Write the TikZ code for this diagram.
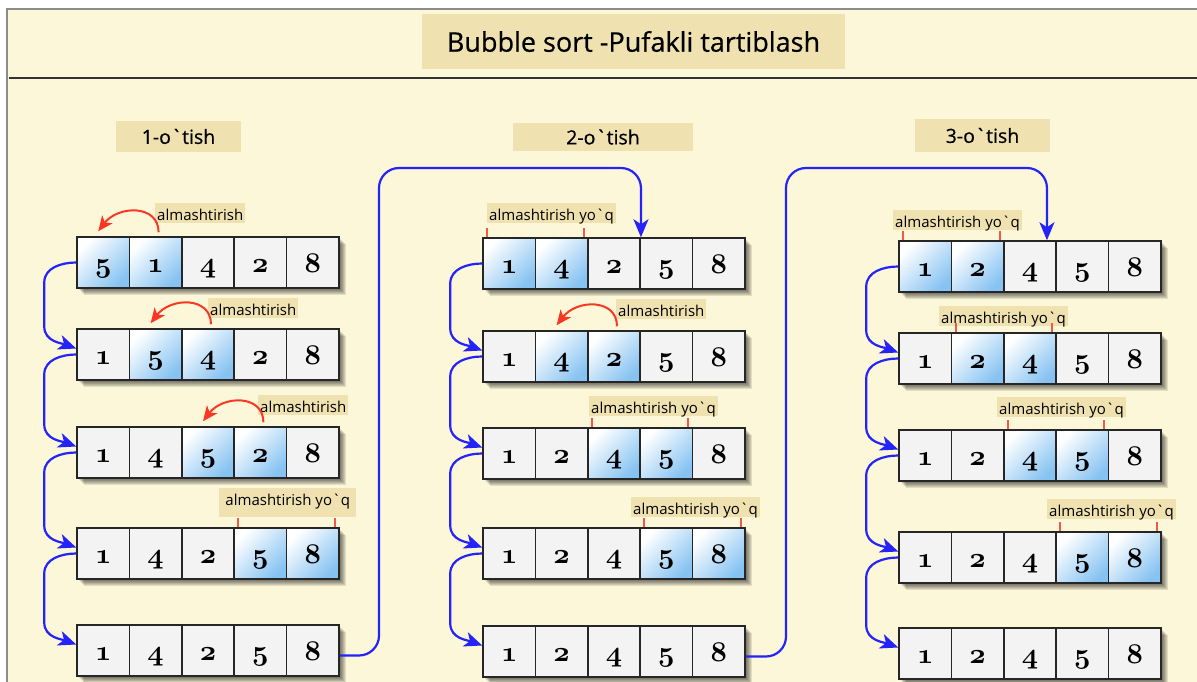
\documentclass[tikz,border=0pt]{standalone}
\usepackage{fontspec}
\usetikzlibrary{arrows.meta,positioning}

\newfontfamily\labelfont{Open Sans}[Ligatures=TeXOff]
\newfontfamily\headfont{Open Sans}[Ligatures=TeXOff, FakeBold=0.6]
\font\cellfont=cmmib10 at 28.5pt

\definecolor{pagebg}{RGB}{252,247,216}
\definecolor{tagbg}{RGB}{239,226,176}
\definecolor{cellbg}{RGB}{243,243,243}
\definecolor{cellblue}{RGB}{135,195,242}
\definecolor{flowblue}{RGB}{35,35,250}
\definecolor{swapred}{RGB}{250,55,35}
\definecolor{tickred}{RGB}{242,90,70}

\tikzset{
  cell/.style={draw=black!85, line width=1.5pt, fill=cellbg,
    minimum width=52.4pt, minimum height=51pt, inner sep=0pt,
    text height=26pt, text depth=6pt, font=\cellfont},
  hot0/.style={},
  hot1/.style={top color=white, bottom color=cellblue, shading angle=45},
  tag/.style={fill=tagbg, inner xsep=2pt, inner ysep=0pt,
    text height=17pt, text depth=3pt,
    font=\labelfont\fontsize{15pt}{18pt}\selectfont},
  head/.style={fill=tagbg, font=\headfont\fontsize{19.5pt}{22pt}\selectfont},
  flow/.style={draw=flowblue, line width=2.2pt,
    -{Stealth[length=18pt,width=15pt,inset=5pt]}},
  swap/.style={draw=swapred, line width=2pt,
    -{Stealth[length=15pt,width=13pt,inset=4pt]}},
  tick/.style={draw=tickred, line width=2pt},
}

\begin{document}
\begin{tikzpicture}[x=1pt, y=-1pt]
  \useasboundingbox (0,0) rectangle (1197,682);

  % --- 1. Ramka va sarlavha ---
  \fill[white] (0,0) rectangle (1197,682);
  \fill[pagebg] (7,9) rectangle (1197,682);
  \draw[black!45, line width=2pt] (7,682) -- (7,9) -- (1197,9);
  \draw[black!80, line width=1.5pt] (9,78) -- (1197,78);
  \node[fill=tagbg, minimum width=423pt, minimum height=55pt,
    font=\headfont\fontsize{27pt}{30pt}\selectfont] (title) at (633.5,41.5)
    {Bubble sort -Pufakli tartiblash};

  % --- 2. O`tish sarlavhalari ---
  \node[head, minimum width=125pt, minimum height=31pt] (pass1) at (178.5,136.5) {1-o`tish};
  \node[head, minimum width=180pt, minimum height=28pt] (pass2) at (603,137) {2-o`tish};
  \node[head, minimum width=135pt, minimum height=33pt] (pass3) at (982.5,135.5) {3-o`tish};

  % --- 3. Qatorlar (o`tish/qator/x/y/ajratilgan juftlik/qiymatlar) ---
  \foreach \p/\r/\x/\y/\h/\vals in {
      1/1/77/237/1/{5,1,4,2,8}, 1/2/77/329/2/{1,5,4,2,8}, 1/3/77/427/3/{1,4,5,2,8},
      1/4/77/528/4/{1,4,2,5,8}, 1/5/77/625/0/{1,4,2,5,8},
      2/1/483/238/1/{1,4,2,5,8}, 2/2/483/331/2/{1,4,2,5,8}, 2/3/483/428/3/{1,2,4,5,8},
      2/4/483/528/4/{1,2,4,5,8}, 2/5/483/626/0/{1,2,4,5,8},
      3/1/899/241/1/{1,2,4,5,8}, 3/2/899/333/2/{1,2,4,5,8}, 3/3/899/430/3/{1,2,4,5,8},
      3/4/899/532/4/{1,2,4,5,8}, 3/5/899/628/0/{1,2,4,5,8}}{
    % soya
    \foreach \d in {1,...,7}
      \fill[black, opacity=0.1] (\x+\d,\y+\d) rectangle ++(262,51);
    \foreach \v [count=\k] in \vals {
      \pgfmathtruncatemacro\isHot{(\h>0)&&((\k==\h)||(\k==\h+1))}
      \node[cell, hot\isHot] (p\p-\r-\k) at (\x+52.4*\k-26.2, \y+25.5) {\v};
    }
  }

  % --- 4. Ustun ichidagi strelkalar ---
  \foreach \p in {1,2,3}
    \foreach \r/\s in {1/2,2/3,3/4,4/5}
      \draw[flow] (p\p-\r-1.west) to[out=180,in=90] ([xshift=-32pt,yshift=-20pt]p\p-\r-1.west)
        -- ([xshift=-32pt,yshift=28pt]p\p-\s-1.west)
        to[out=-90,in=160] ([yshift=6pt]p\p-\s-1.west);

  % --- 5. Keyingi o`tishga ---
  \coordinate (hop1) at (379,168);
  \coordinate (hop2) at (786,168);
  \draw[flow, rounded corners=20pt] ([yshift=-5pt]p1-5-5.east) -| (hop1) -| (p2-1-3.north east);
  \draw[flow, rounded corners=20pt] ([yshift=-5pt]p2-5-5.east) -| (hop2) -| ([xshift=-10pt]p3-1-3.north east);

  % --- 6. Almashtirish ---
  \node[tag, anchor=north west] (swap11) at (155,203) {almashtirish};
  \node[tag, anchor=north west] (swap12) at (208,298) {almashtirish};
  \node[tag, anchor=north west] (swap13) at (258,395) {almashtirish};
  \node[tag, anchor=north west] (swap22) at (616,299) {almashtirish};
  \draw[swap] ([shift={(3pt,4pt)}]p1-1-2.north) .. controls +(0,-28) and +(20,-26) .. ([shift={(-5pt,5pt)}]p1-1-1.north);
  \draw[swap] ([shift={(3pt,4pt)}]p1-2-3.north) .. controls +(0,-28) and +(20,-26) .. ([shift={(-5pt,5pt)}]p1-2-2.north);
  \draw[swap] ([shift={(3pt,4pt)}]p1-3-4.north) .. controls +(0,-28) and +(20,-26) .. ([shift={(-5pt,5pt)}]p1-3-3.north);
  \draw[swap] ([shift={(3pt,4pt)}]p2-2-3.north) .. controls +(0,-28) and +(20,-26) .. ([shift={(-5pt,5pt)}]p2-2-2.north);

  % --- 7. Almashtirish yo`q ---
  \node[tag, anchor=north west, minimum width=137pt, text depth=12pt] (keep14) at (219,488) {almashtirish yo`q};
  \node[tag, anchor=north west] (keep21) at (487,203) {almashtirish yo`q};
  \node[tag, anchor=north west] (keep23) at (589,396) {almashtirish yo`q};
  \node[tag, anchor=north west] (keep24) at (631,497) {almashtirish yo`q};
  \node[tag, anchor=north west] (keep31) at (893,210) {almashtirish yo`q};
  \node[tag, anchor=north west] (keep32) at (939,306) {almashtirish yo`q};
  \node[tag, anchor=north west] (keep33) at (997,397) {almashtirish yo`q};
  \node[tag, anchor=north west] (keep34) at (1047,499) {almashtirish yo`q};
  \foreach \p/\r/\h in {1/4/4, 2/1/1, 2/3/3, 2/4/4, 3/1/1, 3/2/2, 3/3/3, 3/4/4} {
    \pgfmathtruncatemacro\hh{\h+1}
    \draw[tick] ([xshift=5pt]p\p-\r-\h.north west) -- ++(0,-9);
    \draw[tick] ([xshift=-5pt]p\p-\r-\hh.north east) -- ++(0,-9);
  }

\end{tikzpicture}
\end{document}
